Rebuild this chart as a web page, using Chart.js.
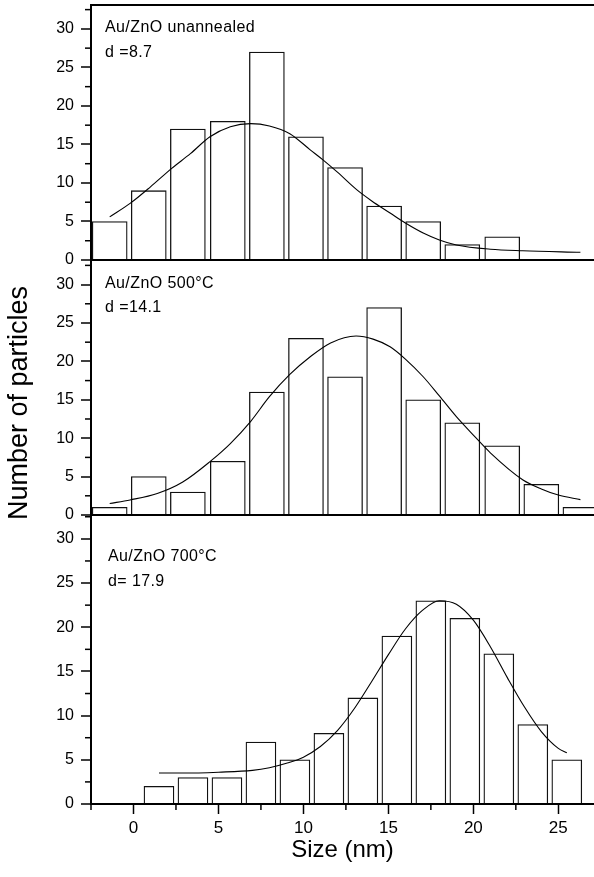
<!DOCTYPE html>
<html>
<head>
<meta charset="utf-8">
<script src="https://cdn.jsdelivr.net/npm/chart.js@4"></script>
<style>
  html, body { margin: 0; padding: 0; background: #fff; }
  #wrap { width: 594px; height: 877px; }
</style>
</head>
<body>
<div id="wrap"><canvas id="chart" width="594" height="877"></canvas></div>
<script>
// ---- data ----
// bar centres (nm): the two upper panels use one binning, the 700°C panel another
const binsUpper = [-1.4, 0.9, 3.2, 5.55, 7.85, 10.15, 12.45, 14.75, 17.05, 19.35, 21.7, 24.0, 26.3];
const binsLower = [1.5, 3.5, 5.5, 7.5, 9.5, 11.5, 13.5, 15.5, 17.5, 19.5, 21.5, 23.5, 25.5];

const countsUnannealed = [5, 9, 17, 18, 27, 16, 12, 7, 5, 2, 3];
const counts500 = [1, 5, 3, 7, 16, 23, 18, 27, 15, 12, 9, 4, 1];
const counts700 = [2, 3, 3, 7, 5, 8, 12, 19, 23, 21, 17, 9, 5];

// fitted curves, read point by point
const fitUnannealedX = [-1.4, -0.2, 1, 2.25, 3.35, 4.5, 5.7, 6.9, 8, 9.2, 10.4, 11.15, 12, 13.15, 14, 15.1, 16, 17.05, 18, 19, 21, 22.9, 26.3];
const fitUnannealedY = [5.6, 7.35, 9.5, 11.9, 13.8, 16.0, 17.3, 17.7, 17.4, 16.4, 14.3, 13.0, 11.4, 9.1, 7.7, 6.1, 4.8, 3.5, 2.6, 1.95, 1.4, 1.2, 1.0];

const fit500X = [-1.4, -0.2, 1.4, 2.9, 4.5, 5.7, 6.9, 8, 9.2, 10.4, 11.6, 13.1, 14.1, 15.1, 16, 17.05, 18, 19, 20, 21, 22.9, 24, 25, 26.3];
const fit500Y = [1.5, 1.96, 2.8, 4.3, 6.95, 9.3, 12.2, 15.4, 18.3, 20.6, 22.4, 23.3, 22.9, 21.9, 20.3, 18.0, 15.5, 12.8, 10.4, 8.1, 4.6, 3.4, 2.6, 2.0];

const fit700X = [1.5, 3, 5, 7, 8, 9, 10, 11, 12, 13, 14, 15, 16, 17, 18, 19, 20, 21, 22, 23, 24, 25, 25.5];
const fit700Y = [3.5, 3.5, 3.6, 3.8, 4.1, 4.6, 5.3, 6.5, 8.3, 10.8, 13.8, 16.9, 19.8, 21.9, 23.0, 22.6, 20.8, 17.8, 14.3, 11.0, 8.2, 6.3, 5.8];

const xTicks = [0, 5, 10, 15, 20, 25];
const yTicks = [0, 5, 10, 15, 20, 25, 30];

const panelNames = ["Au/ZnO unannealed", "Au/ZnO 500°C", "Au/ZnO 700°C"];
const panelMeans = ["d =8.7", "d =14.1", "d= 17.9"];

Chart.defaults.font.family = "'Liberation Sans', Arial, sans-serif";
Chart.defaults.color = "#000";

const toXY = (xs, ys) => ys.map((y, i) => ({ x: xs[i], y }));

function barSet(xs, ys, axis, thick) {
  return {
    type: "bar", data: toXY(xs, ys), yAxisID: axis, grouped: false, barThickness: thick,
    backgroundColor: "#fff", borderColor: "#111", borderWidth: 1.3, order: 1
  };
}
function fitSet(xs, ys, axis) {
  return {
    type: "line", data: toXY(xs, ys), yAxisID: axis, borderColor: "#000", borderWidth: 1.1,
    pointRadius: 0, fill: false, cubicInterpolationMode: "monotone", order: 0
  };
}

function yScale(weight, stackWeight, max) {
  return {
    type: "linear", position: "left", stack: "panels", stackWeight, weight,
    min: 0, max, offset: false,
    afterBuildTicks: s => { s.ticks = yTicks.map(v => ({ value: v })); },
    afterFit: s => { s.width = 91; s.paddingTop = 0; s.paddingBottom = 0; },
    border: { display: true, color: "#000", width: 2 },
    grid: {
      drawOnChartArea: true,
      color: c => (c.tick && c.tick.value === 0 ? "#000" : "rgba(0,0,0,0)"),
      lineWidth: 2, tickLength: 10, tickColor: "#000", tickWidth: 1.5
    },
    ticks: { color: "#000", font: { size: 16 }, padding: 7 }
  };
}

// minor ticks, top frame line, y title and panel notes
const decor = {
  id: "decor",
  afterDraw(chart) {
    const { ctx, chartArea } = chart;
    ctx.save();
    ctx.strokeStyle = "#000";
    ctx.lineWidth = 1.5;
    const xs = chart.scales.x;
    for (let v = -2.5; v <= xs.max; v += 5) {
      const px = xs.getPixelForValue(v);
      ctx.beginPath(); ctx.moveTo(px, xs.top); ctx.lineTo(px, xs.top + 6); ctx.stroke();
    }
    ["yTop", "yMid", "yBot"].forEach(id => {
      const ys = chart.scales[id];
      for (let v = 2.5; v <= ys.max; v += 5) {
        const py = ys.getPixelForValue(v);
        ctx.beginPath(); ctx.moveTo(ys.right - 6, py); ctx.lineTo(ys.right, py); ctx.stroke();
      }
    });
    ctx.lineWidth = 2;
    ctx.beginPath(); ctx.moveTo(chartArea.left, chartArea.top); ctx.lineTo(chartArea.right, chartArea.top); ctx.stroke();

    // y axis title
    ctx.fillStyle = "#000";
    ctx.font = "27px 'Liberation Sans', Arial, sans-serif";
    ctx.textAlign = "center";
    ctx.textBaseline = "middle";
    ctx.translate(20, 403);
    ctx.rotate(-Math.PI / 2);
    ctx.fillText("Number of particles", 0, 0);
    ctx.setTransform(1, 0, 0, 1, 0, 0);

    // panel notes
    ctx.font = "16px 'Liberation Sans', Arial, sans-serif";
    ctx.letterSpacing = "0.4px";
    ctx.textAlign = "left";
    const notePos = [[105, 23, 48], [105, 24, 48], [108, 42, 67]];
    ["yTop", "yMid", "yBot"].forEach((id, i) => {
      const ys = chart.scales[id];
      const [nx, a, b] = notePos[i];
      ctx.fillText(panelNames[i], nx, ys.top + a);
      ctx.fillText(panelMeans[i], nx, ys.top + b);
    });
    ctx.restore();
  }
};

new Chart(document.getElementById("chart"), {
  type: "bar",
  data: {
    datasets: [
      fitSet(fitUnannealedX, fitUnannealedY, "yTop"),
      fitSet(fit500X, fit500Y, "yMid"),
      fitSet(fit700X, fit700Y, "yBot"),
      barSet(binsUpper, countsUnannealed, "yTop", 35),
      barSet(binsUpper, counts500, "yMid", 35),
      barSet(binsLower, counts700, "yBot", 30)
    ]
  },
  options: {
    responsive: false,
    animation: false,
    layout: { padding: { top: 5, left: 0, right: 0, bottom: 0 } },
    plugins: { legend: { display: false }, tooltip: { enabled: false } },
    scales: {
      x: {
        type: "linear", position: "bottom", min: -2.5, max: 27.1, offset: false,
        afterBuildTicks: s => { s.ticks = xTicks.map(v => ({ value: v })); },
        afterFit: s => { s.height = 73; s.paddingLeft = 0; s.paddingRight = 0; },
        border: { color: "#000", width: 2 },
        grid: { drawOnChartArea: false, offset: false, tickLength: 10, tickColor: "#000", tickWidth: 1.5 },
        ticks: { color: "#000", font: { size: 17 }, padding: 4, maxRotation: 0 },
        title: { display: true, text: "Size (nm)", color: "#000", font: { size: 24 }, padding: { top: 0, bottom: 12 } }
      },
      yTop: yScale(3, 255, 33.1),
      yMid: yScale(2, 255, 33.2),
      yBot: yScale(1, 289, 32.7)
    }
  },
  plugins: [decor]
});
</script>
</body>
</html>
